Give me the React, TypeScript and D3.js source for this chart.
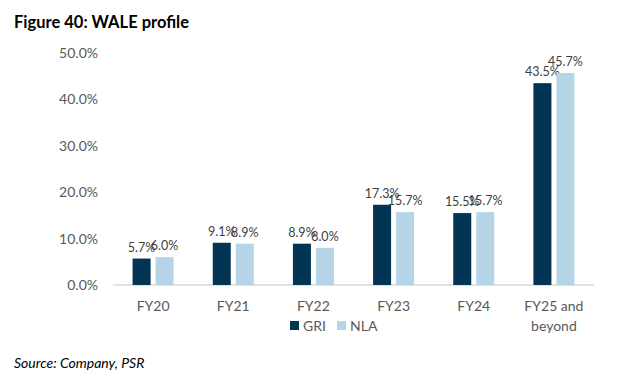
import React from "react";
import * as d3 from "d3";

const categories = ["FY20", "FY21", "FY22", "FY23", "FY24", "FY25 and beyond"];
const griValues = [5.7, 9.1, 8.9, 17.3, 15.5, 43.5];
const nlaValues = [6.0, 8.9, 8.0, 15.7, 15.7, 45.7];
const seriesNames = ["GRI", "NLA"];
const yTicks = [0, 10, 20, 30, 40, 50];

const colors = ["#023453", "#b5d4e6"];
const font = "Lato, 'Open Sans', sans-serif";

export default function App() {
  const W = 637, H = 385;
  const x0 = 113, x1 = 594;
  const yBase = 285, yTop = 53;
  const x = d3.scaleBand<string>().domain(categories).range([x0, x1]);
  const y = d3.scaleLinear().domain([0, 50]).range([yBase, yTop]);
  const bw = 18, gap = 5;
  const series = [griValues, nlaValues];

  return (
    <svg width={W} height={H} style={{ position: "absolute", left: 0, top: 0 }} fontFamily={font}>
      <rect width={W} height={H} fill="#fff" />
      <text x={14} y={28} fontSize={16.5} fontWeight="bold" fill="#000">Figure 40: WALE profile</text>
      {yTicks.map((t) => (
        <text key={t} x={98} y={y(t) + 5} textAnchor="end" fontSize={14} fill="#595959">
          {t.toFixed(1)}%
        </text>
      ))}
      <line x1={x0} x2={x1} y1={yBase} y2={yBase} stroke="#d9d9d9" strokeWidth={1.5} />
      {categories.map((c, i) => {
        const cx = (x(c) as number) + x.bandwidth() / 2;
        return (
          <g key={c}>
            {series.map((vals, s) => {
              const bx = s === 0 ? cx - gap / 2 - bw : cx + gap / 2;
              return (
                <g key={s}>
                  <rect x={bx} y={y(vals[i])} width={bw} height={yBase - y(vals[i])} fill={colors[s]} />
                  <text x={bx + bw / 2} y={y(vals[i]) - 7} textAnchor="middle" fontSize={12.5} fill="#404040">
                    {vals[i].toFixed(1)}%
                  </text>
                </g>
              );
            })}
            {c === "FY25 and beyond" ? (
              <text x={cx} y={311} textAnchor="middle" fontSize={14} fill="#595959">
                <tspan x={cx}>FY25 and</tspan>
                <tspan x={cx} dy={20}>beyond</tspan>
              </text>
            ) : (
              <text x={cx} y={311} textAnchor="middle" fontSize={14} fill="#595959">{c}</text>
            )}
          </g>
        );
      })}
      {seriesNames.map((n, s) => {
        const lx = 290 + s * 47;
        return (
          <g key={n}>
            <rect x={lx} y={321} width={9} height={9} fill={colors[s]} />
            <text x={lx + 13} y={331} fontSize={14} fill="#595959">{n}</text>
          </g>
        );
      })}
      <text x={14} y={368} fontSize={14} fontStyle="italic" fill="#000">Source: Company, PSR</text>
    </svg>
  );
}
